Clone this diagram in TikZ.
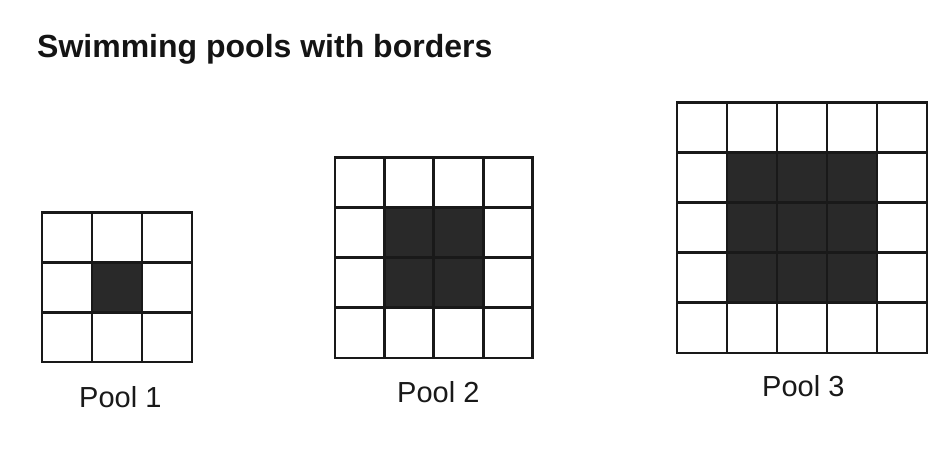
\documentclass[tikz,border=0pt]{standalone}
\usepackage{fontspec}
\setmainfont{Liberation Sans}
\begin{document}
\begin{tikzpicture}[x=1pt,y=1pt,
  gridline/.style={line width=2.8pt, line cap=rect, black!90},
  water/.style={fill=black!84},
  lab/.style={anchor=base west, inner sep=0pt, font=\fontsize{29}{30}\selectfont, text=black!90},
  ttl/.style={anchor=base west, inner sep=0pt, font=\fontsize{32}{33}\selectfont\bfseries, text=black!92}]
\fill[white] (0,0) rectangle (941,454);
\useasboundingbox (0,0) rectangle (941,454);
% title
\node[ttl] (title) at (37,396) {Swimming pools with borders};
% Pool 1
\begin{scope}[shift={(42,92)}, x=50pt, y=49.7pt]
  \fill[water] (1,1) rectangle (2,2);
  \foreach \i in {0,...,3} {
    \draw[gridline] (\i,0) -- (\i,3);
    \draw[gridline] (0,\i) -- (3,\i);
  }
\end{scope}
% Pool 2
\begin{scope}[shift={(335,96)}, x=49.4pt, y=50.2pt]
  \fill[water] (1,1) rectangle (3,3);
  \foreach \i in {0,...,4} {
    \draw[gridline] (\i,0) -- (\i,4);
    \draw[gridline] (0,\i) -- (4,\i);
  }
\end{scope}
% Pool 3
\begin{scope}[shift={(677,101)}, x=50pt, y=50.1pt]
  \fill[water] (1,1) rectangle (4,4);
  \foreach \i in {0,...,5} {
    \draw[gridline] (\i,0) -- (\i,5);
    \draw[gridline] (0,\i) -- (5,\i);
  }
\end{scope}
% labels
\node[lab] (p1) at (79,46) {Pool 1};
\node[lab] (p2) at (397,51) {Pool 2};
\node[lab] (p3) at (762,57) {Pool 3};
\end{tikzpicture}
\end{document}
